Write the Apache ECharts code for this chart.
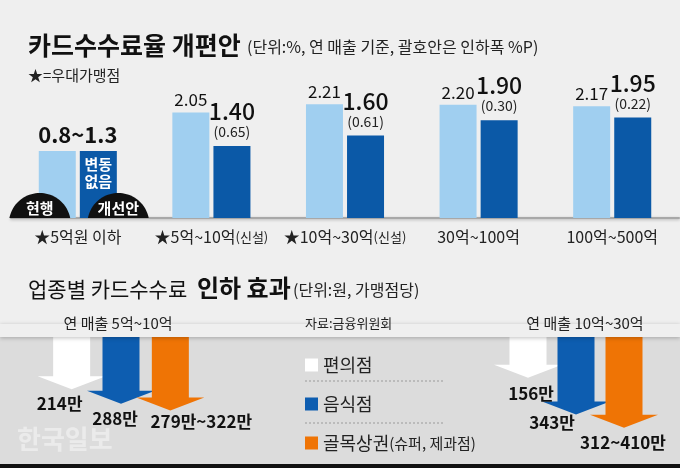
<!DOCTYPE html>
<html><head><meta charset="utf-8">
<script src="https://cdn.jsdelivr.net/npm/echarts@6/dist/echarts.min.js"></script>
<style>html,body{margin:0;padding:0;background:#dcdcdc}#c{width:680px;height:468px}</style>
</head><body><div id="c"></div>
<script>
// ---- data ----
const categories = ['★5억원 이하', '★5억~10억(신설)', '★10억~30억(신설)', '30억~100억', '100억~500억'];
const currentValues = [1.3, 2.05, 2.21, 2.20, 2.17];
const currentLabels = ['0.8~1.3', '2.05', '2.21', '2.20', '2.17'];
const proposedValues = [1.3, 1.40, 1.60, 1.90, 1.95];
const proposedLabels = ['변동\n없음', '1.40', '1.60', '1.90', '1.95'];
const cutLabels = ['', '(0.65)', '(0.61)', '(0.30)', '(0.22)'];

const industries = ['편의점', '음식점', '골목상권(슈퍼, 제과점)'];
const effect5to10 = [214, 288, 322];
const effect5to10Labels = ['214만', '288만', '279만~322만'];
const effect10to30 = [156, 343, 410];
const effect10to30Labels = ['156만', '343만', '312~410만'];
</script>
<script>
const FONT = '"Noto Sans CJK KR", "Noto Sans", sans-serif';
const LIGHT = '#a0cff0', DARK = '#0b59a7';
const arrowColors = ['#ffffff', '#0d5db0', '#ef7405'];
const leftOffsets = [[-12, 14], [-6, 15], [31, 11]];
const rightOffsets = [[3, 16], [-24, 8], [-1, 15]];

const chart = echarts.init(document.getElementById('c'), null, {renderer: 'canvas'});

function arrowRender(labels, offsets) {
  return function (params, api) {
    const i = api.value(0), v = api.value(1);
    const s = api.coord([i, 0]);
    const t = api.coord([i, v]);
    const cx = s[0], sw = 18.5, hw = 34, hh = 13, y0 = s[1] - 12;
    const color = api.visual('color');
    const off = offsets[i];
    return {
      type: 'group',
      children: [
        {type: 'polygon', shape: {points: [[cx - sw, y0], [cx + sw, y0], [cx + sw, t[1] - hh], [cx + hw, t[1] - hh], [cx, t[1]], [cx - hw, t[1] - hh], [cx - sw, t[1] - hh]]}, style: {fill: color}},
        {type: 'text', z2: 10, style: {text: labels[i], x: cx + off[0], y: t[1] + off[1], align: 'center', verticalAlign: 'middle', textAlign: 'center', textVerticalAlign: 'middle', font: 'bold 17px ' + FONT, fill: '#111'}}
      ]
    };
  };
}

const arrowSeries = [];
[[1, effect5to10, effect5to10Labels, leftOffsets], [2, effect10to30, effect10to30Labels, rightOffsets]].forEach(function (g) {
  industries.forEach(function (name, i) {
    arrowSeries.push({
      type: 'custom', name: name, xAxisIndex: g[0], yAxisIndex: g[0], clip: false,
      itemStyle: {color: arrowColors[i]},
      renderItem: arrowRender(g[2], g[3]),
      data: [[i, g[1][i]]]
    });
  });
});

function txt(id, text, x, y, size, weight, color, align) {
  return {type: 'text', id: id, z: 10, style: {text: text, x: x, y: y, font: (weight || 'normal') + ' ' + size + 'px ' + FONT, fill: color || '#111', align: align || 'left', textAlign: align || 'left', verticalAlign: 'middle', textVerticalAlign: 'middle'}};
}

function buildGraphic(p) {
  const g = [
    {type: 'rect', id: 'strip', z: 5, shape: {x: 0, y: 324, width: 680, height: 13}, style: {fill: '#efefef', shadowColor: 'rgba(0,0,0,0.25)', shadowBlur: 4, shadowOffsetY: 1}},
    {type: 'rect', id: 'bottomline', z: 6, shape: {x: 0, y: 464, width: 680, height: 4}, style: {fill: '#111'}},
    txt('t1', '카드수수료율 개편안', 28, 45, 25, 'bold'),
    txt('t2', '(단위:%, 연 매출 기준, 괄호안은 인하폭 %P)', 247, 47, 16, 'normal', '#222'),
    txt('t3', '★=우대가맹점', 28, 75, 15, 'normal', '#222'),
    txt('s1', '업종별 카드수수료', 28, 289, 21, 'normal'),
    txt('s2', '인하 효과', 197, 288, 24, 'bold'),
    txt('s3', '(단위:원, 가맹점당)', 293, 290, 16, 'normal', '#222'),
    txt('h1', '연 매출 5억~10억', 118, 323, 15, 'normal', '#222', 'center'),
    txt('h2', '연 매출 10억~30억', 585, 323, 15, 'normal', '#222', 'center'),
    txt('src', '자료:금융위원회', 305, 323, 13, 'normal', '#222'),
    {type: 'text', id: 'wm', z: 1, style: {text: '한국일보', x: 17, y: 439, font: 'bold 26px ' + FONT, fill: '#ebebeb', verticalAlign: 'middle', textVerticalAlign: 'middle'}},
    {type: 'line', id: 'd1', z: 3, shape: {x1: 305, y1: 381, x2: 445, y2: 381}, style: {stroke: '#9a9a9a', lineWidth: 1, lineDash: [2, 2]}},
    {type: 'line', id: 'd2', z: 3, shape: {x1: 305, y1: 423, x2: 445, y2: 423}, style: {stroke: '#9a9a9a', lineWidth: 1, lineDash: [2, 2]}}
  ];
  if (p) {
    const by = p[1];
    [[p[0] - 38, '현행', 'k1'], [p[0] + 40.5, '개선안', 'k2']].forEach(function (d) {
      const r = 31, cy = by + 6, a0 = Math.asin(6 / r);
      const pts = [];
      for (let k = 0; k <= 40; k++) {
        const a = a0 + (Math.PI - 2 * a0) * k / 40;
        pts.push([d[0] + r * Math.cos(a), cy - r * Math.sin(a)]);
      }
      g.push({type: 'polygon', id: d[2] + 'p', z: 8, shape: {points: pts}, style: {fill: '#111'}});
      g.push(Object.assign(txt(d[2] + 't', d[1], d[0], by - 10, 15, 'bold', '#fff', 'center'), {z: 9}));
    });
  }
  return g;
}

function splitRich(v) {
  const k = v.indexOf('(');
  return k < 0 ? '{a|' + v + '}' : '{a|' + v.slice(0, k) + '}{b|' + v.slice(k) + '}';
}

const option = {
  animation: false,
  backgroundColor: {type: 'linear', x: 0, y: 0, x2: 0, y2: 1, colorStops: [
    {offset: 0, color: '#efefef'}, {offset: 337 / 468, color: '#efefef'},
    {offset: 337 / 468, color: '#dcdcdc'}, {offset: 1, color: '#dcdcdc'}]},
  textStyle: {fontFamily: FONT},
  grid: [
    {left: 11, right: 1, top: 89.25, bottom: 250},
    {left: 47, width: 148, top: 347, height: 118.2},
    {left: 504, width: 144, top: 347, height: 118.2}
  ],
  xAxis: [
    {type: 'category', gridIndex: 0, data: categories,
      axisLine: {show: true, lineStyle: {color: '#a8a8a8', width: 2, shadowColor: 'rgba(0,0,0,0.25)', shadowBlur: 3, shadowOffsetY: 1}},
      axisTick: {show: false},
      axisLabel: {interval: 0, margin: 11, color: '#222', fontSize: 16, formatter: splitRich,
        rich: {a: {fontSize: 16, color: '#222', fontFamily: FONT}, b: {fontSize: 13, color: '#222', fontFamily: FONT}}}},
    {type: 'category', gridIndex: 1, data: industries, show: false},
    {type: 'category', gridIndex: 2, data: industries, show: false}
  ],
  yAxis: [
    {type: 'value', gridIndex: 0, min: 0, max: 2.5, show: false},
    {type: 'value', gridIndex: 1, min: 0, max: 600, inverse: true, show: false},
    {type: 'value', gridIndex: 2, min: 0, max: 600, inverse: true, show: false}
  ],
  legend: {
    data: industries, orient: 'vertical', left: 305, top: 356, padding: 0, itemWidth: 13, itemHeight: 13, itemGap: 21,
    icon: 'rect', selectedMode: false,
    textStyle: {fontSize: 18, color: '#222', lineHeight: 18,
      rich: {a: {fontSize: 18, color: '#222', fontFamily: FONT, lineHeight: 18}, b: {fontSize: 15, color: '#222', fontFamily: FONT, lineHeight: 18}}},
    formatter: splitRich
  },
  series: [
    {type: 'bar', name: '현행', xAxisIndex: 0, yAxisIndex: 0, barWidth: 37, barGap: '11%',
      itemStyle: {color: LIGHT},
      label: {show: true, position: 'top', distance: 4, fontSize: 17, color: '#111', fontFamily: FONT,
        formatter: function (p) { return currentLabels[p.dataIndex]; }},
      data: currentValues.map(function (v, i) {
        return i === 0 ? {value: v, label: {fontSize: 22, fontWeight: 'bold', offset: [20.5, 0], distance: 5}} : v;
      })},
    {type: 'bar', name: '개선안', xAxisIndex: 0, yAxisIndex: 0, barWidth: 37,
      itemStyle: {color: DARK},
      label: {show: true, position: 'top', distance: 6, fontFamily: FONT,
        formatter: function (p) {
          const i = p.dataIndex;
          if (i === 0) return proposedLabels[0].split('\n').map(function (s) { return '{w|' + s + '}'; }).join('\n');
          return '{a|' + proposedLabels[i] + '}\n{b|' + cutLabels[i] + '}';
        },
        rich: {a: {fontSize: 23, fontWeight: 500, color: '#111', lineHeight: 25, fontFamily: FONT},
          b: {fontSize: 14, color: '#222', lineHeight: 16, fontFamily: FONT},
          w: {fontSize: 15, fontWeight: 'bold', color: '#fff', lineHeight: 17, fontFamily: FONT}}},
      data: proposedValues.map(function (v, i) {
        return i === 0 ? {value: v, label: {position: 'insideTop', distance: 5}} : v;
      })}
  ].concat(arrowSeries),
  graphic: buildGraphic(null)
};
chart.setOption(option);
const p0 = chart.convertToPixel({xAxisIndex: 0, yAxisIndex: 0}, [0, 0]);
chart.setOption({graphic: buildGraphic(p0)});
</script>
</body></html>
